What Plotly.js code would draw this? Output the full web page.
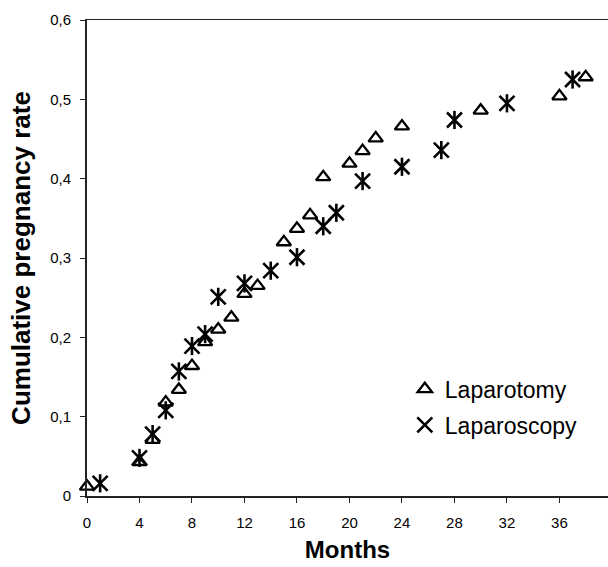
<!DOCTYPE html>
<html>
<head>
<meta charset="utf-8">
<script src="https://cdn.plot.ly/plotly-3.0.1.min.js"></script>
<style>html,body{margin:0;padding:0;background:#fff;}#chart{width:608px;height:567px;}</style>
</head>
<body>
<div id="chart"></div>
<script>
const monthsLaparotomy = [0, 4, 5, 6, 7, 8, 9, 10, 11, 12, 13, 15, 16, 17, 18, 20, 21, 22, 24, 30, 36, 38];
const rateLaparotomy = [0.012, 0.043, 0.071, 0.118, 0.134, 0.164, 0.194, 0.210, 0.225, 0.255, 0.265, 0.320, 0.337, 0.354, 0.402, 0.419, 0.435, 0.451, 0.466, 0.486, 0.504, 0.528];
const monthsLaparoscopy = [1, 4, 5, 6, 7, 8, 9, 10, 12, 14, 16, 18, 19, 21, 24, 27, 28, 32, 37];
const rateLaparoscopy = [0.016, 0.048, 0.078, 0.108, 0.157, 0.189, 0.204, 0.251, 0.268, 0.284, 0.301, 0.340, 0.357, 0.397, 0.415, 0.436, 0.474, 0.495, 0.525];
const xTicks = [0, 4, 8, 12, 16, 20, 24, 28, 32, 36];
const yTicks = [0, 0.1, 0.2, 0.3, 0.4, 0.5, 0.6];
const seriesNames = ['Laparotomy', 'Laparoscopy'];

const font = 'Liberation Sans, Arial, Helvetica, sans-serif';

const traces = [
  {
    x: monthsLaparotomy, y: rateLaparotomy, name: seriesNames[0],
    type: 'scatter', mode: 'markers', cliponaxis: false,
    legendgroup: 'a',
    marker: {symbol: 'triangle-up-open', size: 12.5, color: '#000', line: {color: '#000', width: 2.3}}
  },
  {
    x: monthsLaparoscopy, y: rateLaparoscopy, name: seriesNames[1],
    type: 'scatter', mode: 'markers', cliponaxis: false,
    legendgroup: 'b',
    marker: {symbol: 'x-thin-open', size: 15, color: '#000', line: {color: '#000', width: 2.6}}
  },
  {
    x: monthsLaparoscopy, y: rateLaparoscopy, name: seriesNames[1],
    type: 'scatter', mode: 'markers', cliponaxis: false,
    legendgroup: 'b', showlegend: false,
    marker: {symbol: 'line-ns-open', size: 13, color: '#000', line: {color: '#000', width: 2.6}}
  }
];

const layout = {
  width: 608, height: 567,
  margin: {l: 87, r: 0, t: 20, b: 71},
  paper_bgcolor: '#fff', plot_bgcolor: '#fff',
  separators: ',.',
  font: {family: font, color: '#000'},
  showlegend: true,
  legend: {
    x: 0.61, y: 0.27, xanchor: 'left', yanchor: 'top',
    font: {family: font, size: 23, color: '#000'},
    bgcolor: 'rgba(0,0,0,0)', traceorder: 'grouped', tracegroupgap: 3
  },
  xaxis: {
    range: [0, 39.7], tickvals: xTicks, ticktext: xTicks.map(String),
    showgrid: false, zeroline: false,
    showline: true, linecolor: '#222', linewidth: 1.5, mirror: true,
    ticks: 'outside', ticklen: 5, tickwidth: 1, tickcolor: '#222',
    ticklabelstandoff: 7,
    tickfont: {family: font, size: 15, color: '#000'},
    title: {text: '<b>Months</b>', font: {family: font, size: 24, color: '#000'}, standoff: 11}
  },
  yaxis: {
    range: [0, 0.6], tickvals: yTicks,
    ticktext: yTicks.map(v => v === 0 ? '0' : v.toFixed(1).replace('.', ',')),
    showgrid: false, zeroline: false,
    showline: true, linecolor: '#222', linewidth: 2,
    ticks: 'outside', ticklen: 5, tickwidth: 1, tickcolor: '#222',
    ticklabelstandoff: 6,
    tickfont: {family: font, size: 15, color: '#000'},
    title: {text: '<b>Cumulative pregnancy rate</b>', font: {family: font, size: 26, color: '#000'}, standoff: 12}
  }
};

Plotly.newPlot('chart', traces, layout, {displayModeBar: false, staticPlot: true});
</script>
</body>
</html>
